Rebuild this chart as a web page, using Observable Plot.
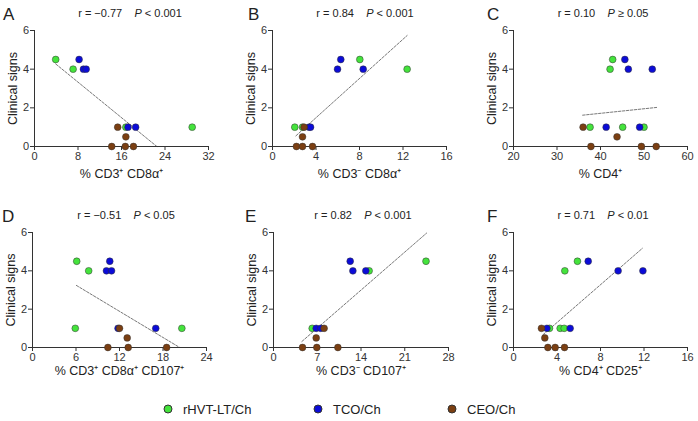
<!DOCTYPE html>
<html><head><meta charset="utf-8">
<script src="https://cdn.jsdelivr.net/npm/d3@7"></script>
<script src="https://cdn.jsdelivr.net/npm/@observablehq/plot@0.6"></script>
<style>
body{margin:0;background:#fff;font-family:"Liberation Sans",Arial,Helvetica,sans-serif;}
#root{position:relative;width:698px;height:421px;overflow:hidden;background:#fff;}
.panel{position:absolute;}
.letter{position:absolute;font-size:17px;color:#222;line-height:17px;}
.title{position:absolute;font-size:11px;color:#222;white-space:pre;transform:translate(-50%,-50%);line-height:12px;}
.leg{position:absolute;font-size:13px;color:#222;line-height:14px;transform:translateY(-50%);white-space:pre;}
.legdot{position:absolute;width:7px;height:7px;border-radius:50%;border:0.5px solid #333;transform:translate(-50%,-50%);}
</style></head><body><div id="root"></div>
<script>
// ---- data ----
const yTicks = [0, 2, 4, 6];
const groupNames = ["rHVT-LT/Ch", "TCO/Ch", "CEO/Ch"];
const groupColors = ["#44e33c", "#0b0bd8", "#7b3f12"];

const titlesR = ["r = \u22120.77", "r = 0.84", "r = 0.10", "r = \u22120.51", "r = 0.82", "r = 0.71"];
const titlesP = ["< 0.001", "< 0.001", "\u2265 0.05", "< 0.05", "< 0.001", "< 0.01"];
const letters = ["A", "B", "C", "D", "E", "F"];
const xLabels = ["% CD3\u207A CD8\u03B1\u207A", "% CD3\u207B CD8\u03B1\u207A", "% CD4\u207A",
                 "% CD3\u207A CD8\u03B1\u207A CD107\u207A", "% CD3\u207B CD107\u207A", "% CD4\u207A CD25\u207A"];
const xDomains = [[0, 32], [0, 16], [20, 60], [0, 24], [0, 28], [0, 16]];
const xTickLists = [[0, 8, 16, 24, 32], [0, 4, 8, 12, 16], [20, 30, 40, 50, 60],
                    [0, 6, 12, 18, 24], [0, 7, 14, 21, 28], [0, 4, 8, 12, 16]];

const aGreen = [[3.9, 4.5], [7.1, 4], [16.8, 1], [29.0, 1]];
const aBlue  = [[8.2, 4.5], [9.0, 4], [9.5, 4], [17.2, 1], [18.6, 1]];
const aBrown = [[15.3, 1], [16.8, 0.5], [14.2, 0], [16.7, 0], [18.2, 0]];
const aTrend = [[3.9, 4.27], [22.5, 0]];

const bGreen = [[2.05, 1], [2.76, 1], [8.03, 4.5], [12.38, 4]];
const bBlue  = [[6.28, 4.5], [5.98, 4], [8.34, 4], [3.37, 1], [3.5, 1]];
const bBrown = [[2.9, 1], [2.76, 0.5], [2.2, 0], [2.76, 0], [3.68, 0]];
const bTrend = [[2.15, 0.55], [12.38, 5.74]];

const cGreen = [[42.8, 4.5], [42.2, 4], [37.6, 1], [45.1, 1], [50.0, 1]];
const cBlue  = [[45.6, 4.5], [46.4, 4], [51.9, 4], [41.3, 1], [49.0, 1]];
const cBrown = [[36.0, 1], [43.8, 0.5], [37.8, 0], [49.4, 0], [52.8, 0]];
const cTrend = [[35.9, 1.62], [52.9, 2.02]];

const dGreen = [[6.1, 4.5], [7.75, 4], [5.9, 1], [20.6, 1]];
const dBlue  = [[10.66, 4.5], [10.2, 4], [10.9, 4], [11.8, 1], [17.0, 1]];
const dBrown = [[12.0, 1], [13.06, 0.5], [10.4, 0], [13.2, 0], [18.5, 0]];
const dTrend = [[6.05, 3.24], [20.3, 0]];

const eGreen = [[6.19, 1], [15.3, 4], [24.4, 4.5]];
const eBlue  = [[6.83, 1], [7.57, 1], [12.27, 4.5], [12.7, 4], [14.77, 4]];
const eBrown = [[8.1, 1], [6.83, 0.5], [4.64, 0], [6.93, 0], [10.3, 0]];
const eTrend = [[4.53, 0.31], [24.5, 5.97]];

const fGreen = [[3.31, 1], [4.29, 1], [4.66, 1], [5.88, 4.5], [4.72, 4]];
const fBlue  = [[3.07, 1], [5.21, 1], [6.87, 4.5], [9.62, 4], [11.9, 4]];
const fBrown = [[2.57, 1], [2.88, 0.5], [3.16, 0], [3.83, 0], [4.69, 0]];
const fTrend = [[2.7, 0.66], [11.86, 5.18]];

const panelPoints = [[aGreen, aBlue, aBrown], [bGreen, bBlue, bBrown], [cGreen, cBlue, cBrown],
                     [dGreen, dBlue, dBrown], [eGreen, eBlue, eBrown], [fGreen, fBlue, fBrown]];
const panelTrends = [aTrend, bTrend, cTrend, dTrend, eTrend, fTrend];

// ---- layout ----
const layout = [
  {left: 0,   top: 20,  w: 230, h: 170, x0: 34,  x1: 208, yTop: 30,  yBot: 146, lo: 31, tx: 130, ty: 13,  lx: 3,   ly: 6},
  {left: 233, top: 20,  w: 232, h: 170, x0: 272, x1: 446, yTop: 30,  yBot: 146, lo: 31, tx: 365, ty: 13,  lx: 248, ly: 6},
  {left: 466, top: 20,  w: 232, h: 170, x0: 513, x1: 687, yTop: 30,  yBot: 146, lo: 31, tx: 603, ty: 13,  lx: 487, ly: 6},
  {left: 0,   top: 222, w: 230, h: 160, x0: 32,  x1: 206, yTop: 232, yBot: 347, lo: 27, tx: 126, ty: 215, lx: 2,   ly: 208},
  {left: 233, top: 222, w: 232, h: 160, x0: 273, x1: 448, yTop: 232, yBot: 347, lo: 27, tx: 363, ty: 215, lx: 245, ly: 208},
  {left: 466, top: 222, w: 232, h: 160, x0: 513, x1: 687, yTop: 232, yBot: 347, lo: 27, tx: 603, ty: 215, lx: 487, ly: 208}
];

const root = document.getElementById("root");
const font = '"Liberation Sans", Arial, Helvetica, sans-serif';
const axisColor = "#333";
const intFmt = d3.format("d");

layout.forEach((L, i) => {
  const pts = panelPoints[i];
  const marks = [
    Plot.line(panelTrends[i], {x: d => d[0], y: d => d[1], stroke: "#555", strokeWidth: 0.8, strokeDasharray: "2.5,1.5"}),
    Plot.axisX({ticks: xTickLists[i], tickFormat: intFmt, tickSize: 4, tickPadding: 2, label: null, color: axisColor}),
    Plot.axisX({ticks: [], label: xLabels[i], labelAnchor: "center", labelArrow: "none", labelOffset: L.lo, fontSize: 12.5, color: "#222"}),
    Plot.axisY({ticks: yTicks, tickFormat: intFmt, tickSize: 4, tickPadding: 1.5, label: null, color: axisColor}),
    Plot.axisY({ticks: [], label: "Clinical signs", labelAnchor: "center", labelArrow: "none", labelOffset: 26, fontSize: 12.5, color: "#222"}),
    Plot.ruleY([0], {stroke: axisColor, strokeWidth: 1}),
    Plot.ruleX([xDomains[i][0]], {stroke: axisColor, strokeWidth: 1})
  ];
  pts.forEach((g, k) => {
    marks.push(Plot.dot(g, {x: d => d[0], y: d => d[1], r: 3.4, fill: groupColors[k], stroke: "#333", strokeWidth: 0.5}));
  });
  const svg = Plot.plot({
    width: L.w, height: L.h,
    marginLeft: L.x0 - L.left, marginRight: L.left + L.w - L.x1,
    marginTop: L.yTop - L.top, marginBottom: L.top + L.h - L.yBot,
    style: {fontFamily: font, fontSize: "11px", color: "#333", background: "transparent", overflow: "visible"},
    x: {domain: xDomains[i]},
    y: {domain: [0, 6]},
    marks
  });
  const wrap = document.createElement("div");
  wrap.className = "panel";
  wrap.style.left = L.left + "px";
  wrap.style.top = L.top + "px";
  wrap.appendChild(svg);
  root.appendChild(wrap);

  const lt = document.createElement("div");
  lt.className = "letter";
  lt.style.left = L.lx + "px"; lt.style.top = L.ly + "px";
  lt.textContent = letters[i];
  root.appendChild(lt);

  const t = document.createElement("div");
  t.className = "title";
  t.style.left = L.tx + "px"; t.style.top = L.ty + "px";
  t.innerHTML = titlesR[i] + "    <i>P</i> " + titlesP[i];
  root.appendChild(t);
});

// legend
const legX = [168, 318, 452];
groupNames.forEach((name, k) => {
  const d = document.createElement("div");
  d.className = "legdot";
  d.style.left = legX[k] + "px"; d.style.top = "409px";
  d.style.background = groupColors[k];
  root.appendChild(d);
  const s = document.createElement("div");
  s.className = "leg";
  s.style.left = (legX[k] + 15) + "px"; s.style.top = "410px";
  s.textContent = name;
  root.appendChild(s);
});
</script>
</body></html>
